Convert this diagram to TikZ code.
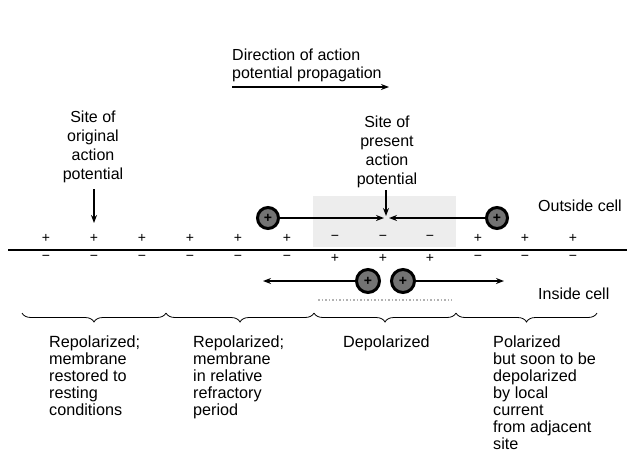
\documentclass[tikz,border=0pt]{standalone}
\usepackage{fontspec}
\setmainfont{Liberation Sans}
\usetikzlibrary{arrows.meta,decorations.pathreplacing}
\begin{document}
\begin{tikzpicture}[x=1pt,y=-1pt,
  lbl/.style={inner sep=0pt,font=\fontsize{16}{19}\selectfont},
  desc/.style={inner sep=0pt,align=left,anchor=base west,font=\fontsize{16.2}{17}\selectfont},
  sign/.style={inner sep=0pt,font=\fontsize{14}{14}\selectfont},
  ion/.style={circle,draw=black,line width=3pt,fill=black!55,minimum size=21pt,inner sep=0pt,font=\bfseries\fontsize{14}{14}\selectfont},
  arr/.style={line width=1.4pt,-{Stealth[length=8pt,width=6pt]}},
  brc/.style={decorate,decoration={brace,mirror,amplitude=9pt},line width=0.8pt},
  stip/.style={fill=black!7,draw=none}]
\useasboundingbox (0,0) rectangle (627,461);
% stipple regions
\fill[stip] (313,196) rectangle (456,247);
\draw[black!30,line width=1.5pt,dotted] (318,300) -- (452,300);
% direction of propagation
\node[lbl,align=left,anchor=base west,font=\fontsize{16}{18}\selectfont] (dir) at (232,78.5) {Direction of action\\potential propagation};
\coordinate (da) at (232,87);
\coordinate (db) at (389,87);
\draw[arr] (da) -- (db);
% site labels
\node[lbl,align=center,anchor=base] (orig) at (93,179) {Site of\\original\\action\\potential};
\coordinate (o1) at (94,189);
\coordinate (o2) at (94,223);
\draw[arr] (o1) -- (o2);
\node[lbl,align=center,anchor=base] (pres) at (387,184) {Site of\\present\\action\\potential};
\coordinate (p1) at (386,190);
\coordinate (p2) at (386,216);
\draw[arr] (p1) -- (p2);
% outside/inside labels
\node[lbl,anchor=base west] (out) at (538,211) {Outside cell};
\node[lbl,anchor=base west] (in) at (538,299) {Inside cell};
% membrane
\coordinate (m1) at (8,250);
\coordinate (m2) at (627,250);
\draw[line width=2.4pt] (m1) -- (m2);
% charges
\foreach \x [count=\i] in {46,94,142,190,238,287} {
  \node[sign] (tp\i) at (\x,238) {+};
  \node[sign] (bm\i) at (\x,258) {−};
}
\foreach \x [count=\i] in {335,383,430} {
  \node[sign] (tm\i) at (\x,238) {−};
  \node[sign] (bp\i) at (\x,258) {+};
}
\foreach \x [count=\i] in {478,525,573} {
  \node[sign] (tq\i) at (\x,238) {+};
  \node[sign] (bn\i) at (\x,258) {−};
}
% ions and local currents
\node[ion] (c1) at (268,218) {+};
\node[ion] (c2) at (497,218) {+};
\coordinate (e1) at (384,218);
\coordinate (e2) at (389,218);
\draw[arr] (c1) -- (e1);
\draw[arr] (c2) -- (e2);
\node[ion,minimum size=23pt] (c3) at (368,281) {+};
\node[ion,minimum size=23pt] (c4) at (403,281) {+};
\coordinate (f1) at (263,281);
\coordinate (f2) at (504,281);
\draw[arr] (c3) -- (f1);
\draw[arr] (c4) -- (f2);
% braces
\coordinate (b0) at (22,313);
\coordinate (b1) at (166,313);
\coordinate (b2) at (314,313);
\coordinate (b3) at (456,313);
\coordinate (b4) at (597,313);
\draw[brc] (b0) -- (b1);
\draw[brc] (b1) -- (b2);
\draw[brc] (b2) -- (b3);
\draw[brc] (b3) -- (b4);
% descriptions
\node[desc] (d1) at (49,415.5) {Repolarized;\\membrane\\restored to\\resting\\conditions};
\node[desc] (d2) at (193,415.5) {Repolarized;\\membrane\\in relative\\refractory\\period};
\node[desc] (d3) at (343,347.5) {Depolarized};
\node[desc] (d4) at (493,449.5) {Polarized\\but soon to be\\depolarized\\by local\\current\\from adjacent\\site};
\end{tikzpicture}
\end{document}
